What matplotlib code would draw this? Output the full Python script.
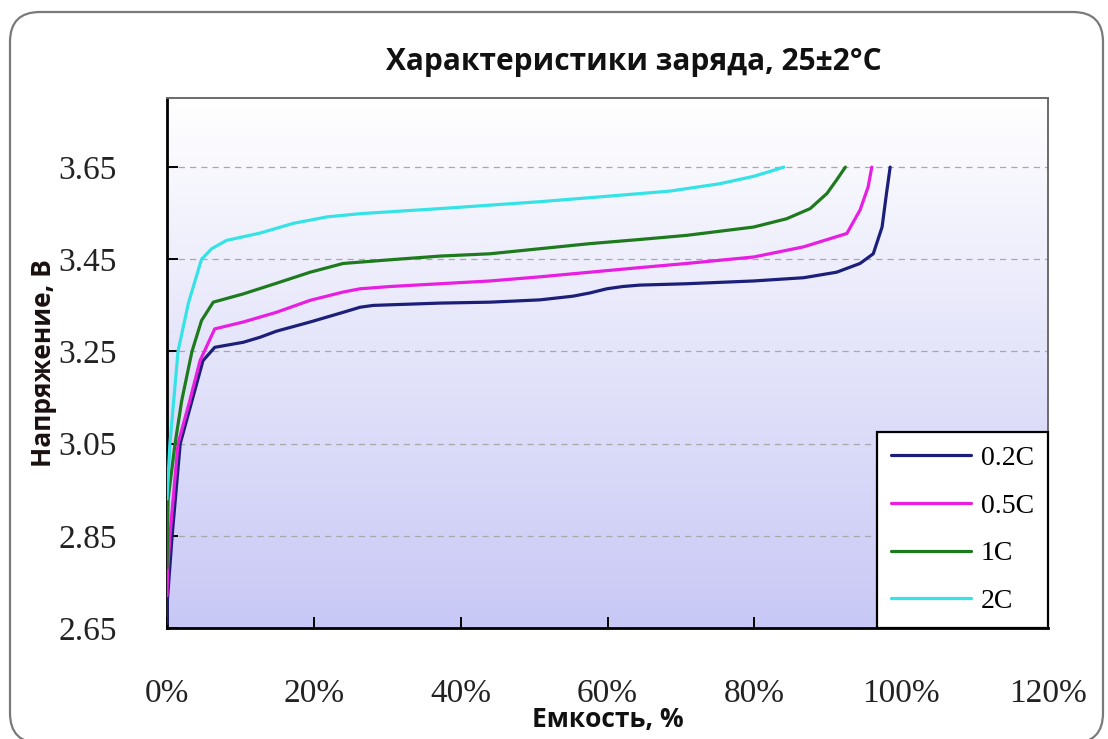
import numpy as np
import matplotlib
matplotlib.use("Agg")
import matplotlib.pyplot as plt
from matplotlib.patches import FancyBboxPatch
from matplotlib.ticker import FuncFormatter, MultipleLocator

# Charge curves: capacity (%) vs voltage (V)
cap_02c = [0.0, 0.05, 0.7, 1.8, 3.4, 4.9, 6.5, 10.4, 12.7, 14.9, 19.5, 24.0, 26.3, 28.1,
           37.2, 44.0, 50.8, 55.3, 57.6, 59.9, 62.1, 64.4, 70.8, 79.9, 86.7, 91.2, 94.4,
           96.2, 97.4, 98.0, 98.5]
v_02c = [2.66, 2.71, 2.85, 3.05, 3.143, 3.23, 3.259, 3.270, 3.281, 3.294, 3.314, 3.335, 3.346, 3.350,
         3.355, 3.357, 3.362, 3.370, 3.377, 3.386, 3.391, 3.394, 3.397, 3.403, 3.410, 3.422, 3.441,
         3.462, 3.520, 3.593, 3.65]

cap_05c = [0.0, 0.1, 0.4, 1.5, 3.1, 4.5, 6.5, 10.4, 14.9, 19.5, 24.0, 26.3, 30.4, 37.2,
           44.0, 50.8, 57.6, 64.4, 70.8, 79.9, 86.7, 92.6, 94.4, 95.5, 96.0]
v_05c = [2.72, 2.78, 2.85, 3.05, 3.143, 3.23, 3.299, 3.314, 3.335, 3.361, 3.379, 3.386, 3.391, 3.397,
         3.403, 3.412, 3.422, 3.432, 3.441, 3.455, 3.477, 3.506, 3.557, 3.607, 3.65]

cap_1c = [0.0, 0.15, 1.1, 2.0, 3.4, 4.7, 6.3, 10.4, 14.9, 19.5, 24.0, 30.4, 37.2, 44.0,
          50.8, 57.6, 64.4, 70.8, 79.9, 84.4, 87.6, 89.9, 91.2, 92.4]
v_1c = [2.78, 2.93, 3.05, 3.143, 3.25, 3.317, 3.357, 3.375, 3.398, 3.422, 3.441, 3.449, 3.457, 3.462,
        3.473, 3.484, 3.493, 3.502, 3.520, 3.538, 3.560, 3.593, 3.622, 3.65]

cap_2c = [0.0, 0.4, 1.5, 2.9, 4.7, 6.1, 8.1, 12.7, 17.2, 21.8, 26.3, 37.2, 50.8, 61.7,
          68.5, 75.3, 79.9, 82.2, 84.0]
v_2c = [2.93, 3.05, 3.25, 3.354, 3.45, 3.473, 3.491, 3.507, 3.528, 3.542, 3.549, 3.560, 3.575, 3.589,
        3.598, 3.614, 3.630, 3.641, 3.65]

series = [
    ("0.2C", cap_02c, v_02c, "#1c1f7a"),
    ("0.5C", cap_05c, v_05c, "#e81ee0"),
    ("1C", cap_1c, v_1c, "#1d7a1d"),
    ("2C", cap_2c, v_2c, "#35e3e6"),
]

title = "Характеристики заряда, 25±2°C"
xlabel = "Емкость, %"
ylabel = "Напряжение, В"
y_ticks = [2.65, 2.85, 3.05, 3.25, 3.45, 3.65]

W, H = 1108, 739
fig = plt.figure(figsize=(W / 100, H / 100), dpi=100)
fig.patch.set_facecolor("white")

# rounded outer frame (bottom edge runs just past the canvas)
frame = FancyBboxPatch((10 / W, -4 / H), 1093 / W, 731 / H,
                       boxstyle="round,pad=0,rounding_size=0.027",
                       transform=fig.transFigure, fill=False,
                       edgecolor="#7a7a7a", linewidth=1.6,
                       mutation_aspect=W / H, clip_on=False)
fig.patches.append(frame)

ax = fig.add_axes([167 / W, (H - 628) / H, (1048 - 167) / W, (628 - 98) / H])
ax.set_xlim(0, 120)
ax.set_ylim(2.65, 3.80)

# vertical gradient background: white at top, lavender at bottom
grad = np.linspace(0, 1, 256).reshape(-1, 1)
top = np.array([1.0, 1.0, 1.0])
bot = np.array([200, 200, 246]) / 255
img = bot + (top - bot) * grad
ax.imshow(img[:, None, :].repeat(2, axis=1), extent=[0, 120, 2.65, 3.80],
          origin="lower", aspect="auto", zorder=0)

for yt in y_ticks[1:]:
    ax.axhline(yt, color="#a8a8a8", linestyle=(0, (5, 4)), linewidth=0.9, zorder=1)

for name, x, y, c in series:
    ax.plot(x, y, color=c, linewidth=2.3, label=name, zorder=3,
            solid_capstyle="round", solid_joinstyle="round")

ax.set_yticks(y_ticks)
ax.yaxis.set_major_formatter(FuncFormatter(lambda v, p: f"{v:.2f}"))
ax.xaxis.set_major_locator(MultipleLocator(20))
ax.xaxis.set_major_formatter(FuncFormatter(lambda v, p: f"{v:.0f}%"))
ax.tick_params(direction="in", length=8, width=1.4, color="black")
ax.tick_params(axis="x", pad=36)
ax.tick_params(axis="y", pad=36)
for lab in ax.get_xticklabels() + ax.get_yticklabels():
    lab.set_fontfamily("Liberation Serif")
    lab.set_fontsize(24)
    lab.set_color("#222222")

for side in ("left", "bottom"):
    ax.spines[side].set_linewidth(2.0)
    ax.spines[side].set_color("black")
for side in ("top", "right"):
    ax.spines[side].set_linewidth(1.4)
    ax.spines[side].set_color("#6a6a6a")

ax.set_xlabel(xlabel, fontsize=19, fontweight="bold", family="Open Sans",
              labelpad=-2, color="#111111")
ax.set_ylabel(ylabel, fontsize=19, fontweight="bold", family="Open Sans",
              labelpad=1, color="#1a1010")

fig.text(634 / W, 1 - 62 / H, title, ha="center", va="center",
         fontsize=21.5, fontweight="bold", family="Open Sans", color="#111111")

leg = ax.legend(loc="lower right", bbox_to_anchor=(1.0, 0.0), frameon=True,
                fancybox=False, prop={"family": "Liberation Serif", "size": 20},
                handlelength=2.9, handletextpad=0.35, labelspacing=0.8,
                borderpad=0.5, borderaxespad=0.0)
leg.get_frame().set_edgecolor("black")
leg.get_frame().set_linewidth(1.6)
leg.get_frame().set_facecolor("white")
leg.get_frame().set_alpha(1.0)

fig.savefig("out.png", dpi=100)
